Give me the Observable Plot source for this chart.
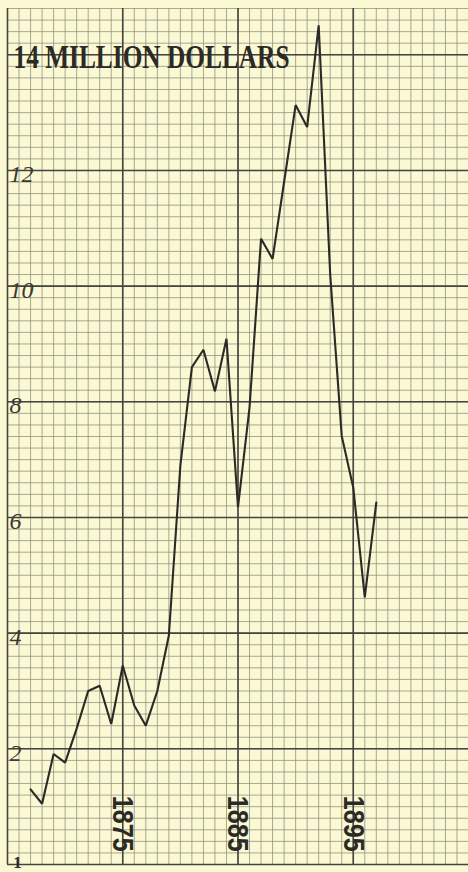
<!DOCTYPE html>
<html><head><meta charset="utf-8">
<script src="https://cdn.jsdelivr.net/npm/d3@7"></script>
<script src="https://cdn.jsdelivr.net/npm/@observablehq/plot@0.6"></script>
<style>
html,body{margin:0;padding:0;background:#fbf9d3;}
svg{display:block}
</style></head><body>
<div id="chart"></div>
<script>
// Series: million dollars by year
const years = [1867, 1868, 1869, 1870, 1871, 1872, 1873, 1874, 1875, 1876, 1877, 1878, 1879, 1880,
  1881, 1882, 1883, 1884, 1885, 1886, 1887, 1888, 1889, 1890, 1891, 1892, 1893, 1894, 1895, 1896, 1897];
const values = [1.30, 1.05, 1.91, 1.76, 2.35, 3.00, 3.09, 2.43, 3.44, 2.75, 2.40, 3.00, 3.96, 6.90,
  8.60, 8.90, 8.18, 9.09, 6.18, 7.90, 10.82, 10.47, 11.80, 13.13, 12.75, 14.51, 10.20, 7.41, 6.52, 4.62, 6.26];

// Tick labels
const yTickValues = [2, 4, 6, 8, 10, 12];
const yTickLabels = ["2", "4", "6", "8", "10", "12"];
const yearLabels = [1875, 1885, 1895];
const titleText = "14 MILLION DOLLARS";
const cornerLabel = "1";

const data = years.map((y, i) => ({year: y, value: values[i]}));
const minorX = d3.range(1865, 1906);
const minorY = d3.range(0, 75).map(i => i * 0.2);
const majorY = [0, 2, 4, 6, 8, 10, 12, 14];
const majorX = [1865, 1875, 1885, 1895];

const plot = Plot.plot({
  width: 468, height: 872,
  marginLeft: 7, marginRight: 0, marginTop: 8, marginBottom: 8,
  x: {domain: [1865, 1905], axis: null},
  y: {domain: [0, 14.8], axis: null},
  style: {background: "#fbf9d3", overflow: "visible"},
  marks: [
    Plot.ruleX(minorX, {stroke: "#8e8c7c", strokeWidth: 1, strokeOpacity: 0.75}),
    Plot.ruleY(minorY, {stroke: "#8e8c7c", strokeWidth: 1, strokeOpacity: 0.75}),
    Plot.ruleY(majorY, {stroke: "#45443e", strokeWidth: 1.6}),
    Plot.ruleX(majorX, {stroke: "#45443e", strokeWidth: 1.6}),
    Plot.line(data, {x: "year", y: "value", stroke: "#2b2a27", strokeWidth: 2.1, strokeLinejoin: "miter"}),
    Plot.text(yTickValues, {x: 1865, y: d => d, text: (d, i) => yTickLabels[i], dx: 2, dy: 4,
      textAnchor: "start", fontSize: 24, fontStyle: "italic", fontFamily: "Liberation Serif", fill: "#3a3935"}),
    Plot.text([titleText], {x: 1865, y: 14, text: d => d, dx: 6, dy: 2, textAnchor: "start",
      fontSize: 34, fontWeight: "bold", fontFamily: "Liberation Serif", fill: "#2b2a27"}),
    Plot.text(yearLabels, {x: d => d, y: 1.19, text: d => String(d), rotate: 90, textAnchor: "start",
      lineAnchor: "middle", fontSize: 30, fontWeight: "bold", fontFamily: "Liberation Sans", fill: "#2b2a27"}),
    Plot.text([cornerLabel], {x: 1865, y: 0, text: d => d, dx: 10, dy: -2, textAnchor: "middle",
      fontSize: 17, fontWeight: "bold", fontFamily: "Liberation Serif", fill: "#2b2a27"})
  ]
});

const yearStrings = yearLabels.map(String);
d3.select(plot).selectAll("text").each(function() {
  const t = this.textContent;
  if (t === titleText) {
    this.setAttribute("textLength", 276);
    this.setAttribute("lengthAdjust", "spacingAndGlyphs");
  } else if (yearStrings.includes(t)) {
    this.setAttribute("textLength", 56);
    this.setAttribute("lengthAdjust", "spacingAndGlyphs");
  }
});

document.getElementById("chart").appendChild(plot);
</script>
</body></html>
